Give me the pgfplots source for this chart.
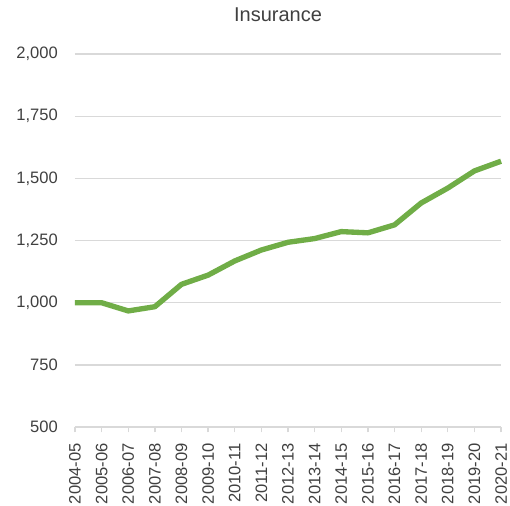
\documentclass[border=0pt]{standalone}
\usepackage{pgfplots}
\pgfplotsset{compat=1.18}
\usepackage{fontspec}
\setmainfont{Liberation Sans}
\definecolor{lineg}{RGB}{112,173,71}
\definecolor{gridc}{RGB}{217,217,217}
\definecolor{txt}{RGB}{64,64,64}
\begin{document}
\begin{tikzpicture}[x=0.75pt,y=0.75pt]
\begin{axis}[
  scale only axis,
  width=319.5pt, height=279.75pt,
  xmin=0, xmax=16, ymin=500, ymax=2000,
  ytick={500,750,1000,1250,1500,1750,2000},
  xtick={0,...,16},
  xticklabels={2004-05,2005-06,2006-07,2007-08,2008-09,2009-10,2010-11,2011-12,2012-13,2013-14,2014-15,2015-16,2016-17,2017-18,2018-19,2019-20,2020-21},
  axis line style={draw=none},
  ymajorgrids, grid style={gridc, line width=1pt},
  y tick style={draw=none},
  x tick style={gridc, line width=1pt},
  xtick pos=bottom, ytick pos=left,
  xtick align=outside, major tick length=4pt,
  tick label style={font=\fontsize{12.4}{14}\selectfont, text=txt},
  yticklabel style={anchor=east, inner sep=0pt},
  yticklabel shift=12.75pt,
  xticklabel style={rotate=90, anchor=east, inner sep=0pt},
  xticklabel shift=8pt,
  /pgf/number format/assume math mode=true,
  /pgf/number format/.cd, 1000 sep={,},
  /pgfplots/.cd,
  clip=false,
]
\path (axis description cs:-0.176,-0.209) rectangle (axis description cs:1.021,1.1448);
\draw[gridc, line width=1pt] (axis description cs:0,0) -- (axis description cs:1,0);
\node[anchor=base, font=\fontsize{15}{18}\selectfont, text=txt] at (axis description cs:0.4765,1.0885) {Insurance};
\addplot[lineg, line width=4pt, line join=round] coordinates {
(0,1000) (1,1000) (2,967) (3,984) (4,1074) (5,1111) (6,1168) (7,1212) (8,1243)
(9,1258) (10,1286) (11,1281) (12,1313) (13,1401) (14,1461) (15,1530) (16,1569)
};
\end{axis}
\end{tikzpicture}
\end{document}
